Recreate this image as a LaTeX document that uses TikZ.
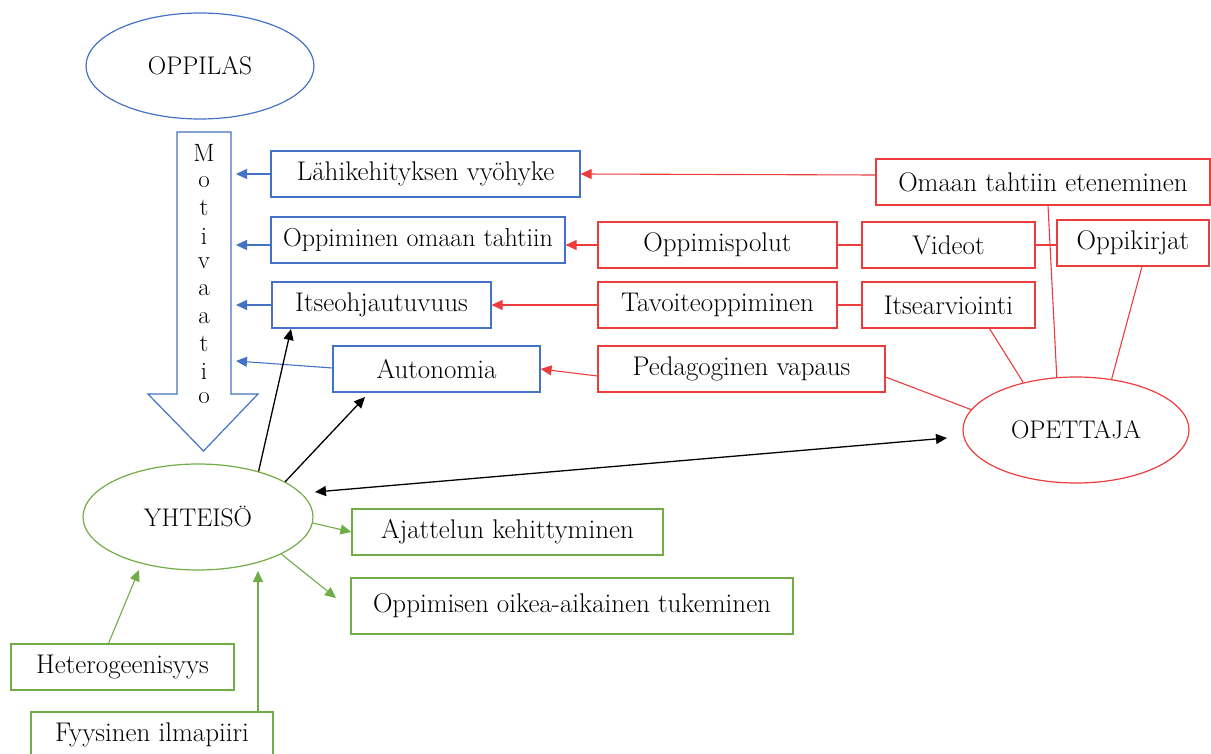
\documentclass[tikz,border=0pt]{standalone}
\usepackage{fontspec}
\setmainfont{Latin Modern Roman}
\usetikzlibrary{shapes.geometric,arrows.meta}
\definecolor{cblue}{RGB}{68,114,196}
\definecolor{cred}{RGB}{236,60,60}
\definecolor{cgreen}{RGB}{112,173,71}
\begin{document}
\begin{tikzpicture}[x=1pt,y=-1pt,
  every node/.style={font=\fontsize{27}{29}\selectfont, inner sep=0pt},
  boxb/.style={draw=cblue,line width=1.2pt,minimum height=46pt},
  boxr/.style={draw=cred,line width=1.2pt,minimum height=46pt},
  boxg/.style={draw=cgreen,line width=1.2pt,minimum height=46pt},
  ell/.style={ellipse,line width=1.2pt,font=\fontsize{25.5}{27}\selectfont},
  arr/.style={-{Triangle[length=11pt,width=10pt]},line width=1.1pt},
  conn/.style={line width=1.1pt},
]
\useasboundingbox (0,0) rectangle (1211,754);

% OPPILAS and motivation arrow
\node[ell,draw=cblue,minimum width=228pt,minimum height=106pt] (oppilas) at (200,66) {OPPILAS};
\draw[draw=cblue,line width=1.2pt,fill=white] (177,132) -- (231,132) -- (231,394) -- (258,394) -- (203.5,451) -- (148,394) -- (177,394) -- cycle;
\foreach \l/\yy [count=\i] in {M/153,o/182,t/208,i/236,v/263,a/290,a/318,t/344,i/371,o/398}
  \node[font=\fontsize{25}{27}\selectfont] (m\i) at (204,\yy) {\l};
\coordinate (sh) at (236,0);

% blue boxes
\node[boxb,minimum width=309pt] (lah) at (425.5,174) {Lähikehityksen vyöhyke};
\node[boxb,minimum width=294pt,font=\fontsize{26}{28}\selectfont] (opp) at (418,240) {Oppiminen omaan tahtiin};
\node[boxb,minimum width=219pt] (itse) at (381.5,305) {Itseohjautuvuus};
\node[boxb,minimum width=207pt] (auto) at (436.5,369) {Autonomia};

% red boxes
\node[boxr,minimum width=334pt] (omaan) at (1043,182) {Omaan tahtiin eteneminen};
\node[boxr,minimum width=239pt] (polut) at (717.5,245) {Oppimispolut};
\node[boxr,minimum width=173pt] (videot) at (948.5,245) {Videot};
\node[boxr,minimum width=152pt] (kirjat) at (1133,243) {Oppikirjat};
\node[boxr,minimum width=239pt] (tavoite) at (717.5,305) {Tavoiteoppiminen};
\node[boxr,minimum width=173pt] (arvio) at (948.5,305) {Itsearviointi};
\node[boxr,minimum width=287pt] (peda) at (741.5,369) {Pedagoginen vapaus};
\node[ell,draw=cred,minimum width=226pt,minimum height=106pt] (opettaja) at (1076,430) {OPETTAJA};

% green
\node[ell,draw=cgreen,minimum width=230pt,minimum height=106pt] (yht) at (198,517) {YHTEISÖ};
\node[boxg,minimum width=311pt] (ajat) at (507.5,532) {Ajattelun kehittyminen};
\node[boxg,minimum width=442pt,minimum height=56pt] (tuki) at (572,606) {Oppimisen oikea-aikainen tukeminen};
\node[boxg,minimum width=223pt] (heter) at (122.5,667) {Heterogeenisyys};
\node[boxg,minimum width=242pt] (fyys) at (152,735) {Fyysinen ilmapiiri};

% blue arrows to motivation
\draw[arr,cblue] (lah.west) -- (lah.west -| sh);
\draw[arr,cblue] (opp.west |- 0,245) -- (sh |- 0,245);
\draw[arr,cblue] (itse.west) -- (itse.west -| sh);
\draw[arr,cblue] ([yshift=1pt]auto.west) -- (sh |- 0,361);

% red arrows
\draw[arr,cred] ([yshift=7pt]omaan.west) -- (lah.east);
\draw[arr,cred] (polut.west) -- (polut.west -| opp.east);
\draw[arr,cred] (tavoite.west) -- (itse.east);
\draw[arr,cred] ([yshift=-7pt]peda.west) -- (auto.east);

% red connectors
\draw[conn,cred] (polut.east) -- (videot.west);
\draw[conn,cred] (videot.east) -- (videot.east -| kirjat.west);
\draw[conn,cred] (tavoite.east) -- (arvio.west);
\draw[conn,cred] ([xshift=5pt]omaan.south) -- (opettaja.110);
\draw[conn,cred] ([xshift=9pt]kirjat.south) -- (opettaja.55);
\draw[conn,cred] ([xshift=41pt]arvio.south) -- (opettaja.138);
\draw[conn,cred] ([yshift=-8pt]peda.east) -- (opettaja.169);

% black arrows
\coordinate (ta) at (291,329);
\coordinate (tb) at (365,397);
\coordinate (dl) at (315,492);
\coordinate (dr) at (947,438);
\draw[arr,black,line width=1.3pt] (yht.37.6) -- (ta);
\draw[arr,black,line width=1.3pt] (yht.22) -- (tb);
\draw[{Triangle[length=11pt,width=10pt]}-{Triangle[length=11pt,width=10pt]},line width=1.3pt] (dl) -- (dr);

% green arrows
\coordinate (ga) at (139,570);
\coordinate (gb) at (258,571);
\coordinate (gc) at (336,598);
\draw[arr,cgreen] (yht.-3) -- (ajat.west);
\draw[arr,cgreen] (yht.-24) -- (gc);
\draw[arr,cgreen] ([xshift=-14pt]heter.north) -- (ga);
\draw[arr,cgreen] (gb |- fyys.north) -- (gb);
\end{tikzpicture}
\end{document}
